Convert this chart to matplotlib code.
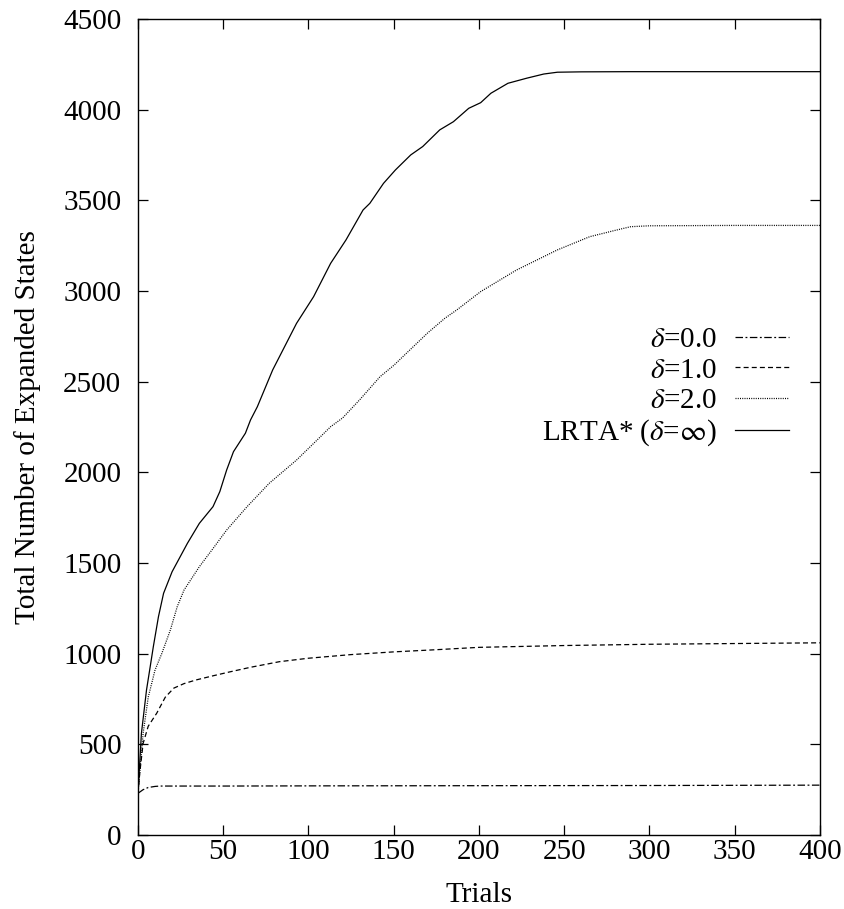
import numpy as np
from matplotlib import pyplot as plt

plt.rcParams['font.family'] = ['Liberation Serif', 'DejaVu Serif']
plt.rcParams['mathtext.fontset'] = 'stix'

# delta = 0.0
x_d0 = [0, 3, 6, 10, 13, 20, 50, 100, 200, 300, 400]
y_d0 = [230, 250, 262, 268, 270, 270, 270, 271, 272, 273, 275]

# delta = 1.0
x_d1 = [0, 1, 3, 6, 11, 16, 21, 27, 34, 44, 54, 66, 83, 100, 125, 150, 175, 200, 250, 300, 350, 400]
y_d1 = [230, 340, 505, 600, 672, 760, 810, 835, 855, 878, 900, 925, 956, 975, 995, 1010, 1022, 1035, 1045, 1052, 1056, 1060]

# delta = 2.0
x_d2 = [0, 3, 6, 10, 14, 19, 23, 27, 36, 44, 52, 64, 77, 93, 105, 113, 120, 130, 142, 150, 160,
        170, 180, 187, 201, 222, 246, 265, 280, 289, 300, 350, 400]
y_d2 = [230, 560, 760, 910, 1002, 1131, 1259, 1351, 1480, 1580, 1682, 1811, 1940, 2068, 2178, 2252,
        2300, 2400, 2528, 2590, 2680, 2770, 2850, 2896, 2997, 3116, 3227, 3300, 3335, 3355, 3360, 3362, 3362]

# LRTA* (delta = inf)
x_lr = [0, 2, 5, 7, 9, 12, 15, 20, 29, 36, 44, 48, 52, 56, 63, 66, 70, 79, 93, 103, 113, 122, 132,
        136, 144, 151, 160, 167, 177, 185, 194, 201, 207, 217, 228, 238, 246, 260, 289, 350, 400]
y_lr = [230, 560, 800, 919, 1039, 1204, 1333, 1452, 1609, 1719, 1811, 1894, 2013, 2114, 2216, 2289,
        2362, 2565, 2822, 2969, 3153, 3282, 3447, 3484, 3594, 3668, 3751, 3797, 3889, 3934, 4008, 4039,
        4091, 4146, 4174, 4197, 4207, 4209, 4210, 4210, 4210]

fig = plt.figure(figsize=(8.44, 9.09), dpi=100)
ax = fig.add_axes([0.1635, 0.0814, 0.808, 0.8976])

lw = 0.9
ax.plot(x_d0, y_d0, color='black', lw=lw, dashes=(6, 2, 1.5, 2), label=r'$\delta$=0.0')
ax.plot(x_d1, y_d1, color='black', lw=lw, dashes=(4, 2.5), label=r'$\delta$=1.0')
ax.plot(x_d2, y_d2, color='black', lw=lw, dashes=(0.8, 1.0), label=r'$\delta$=2.0')
ax.plot(x_lr, y_lr, color='black', lw=lw, label=r'LRTA* ($\delta$=$\infty$)')

ax.set_xlim(0, 400)
ax.set_ylim(0, 4500)
ax.set_xticks(np.arange(0, 401, 50))
ax.set_yticks(np.arange(0, 4501, 500))
ax.tick_params(direction='in', top=True, right=True, length=7, width=0.9,
               labelsize=21)
ax.tick_params(axis='y', pad=12)
ax.tick_params(axis='x', pad=3)
for s in ax.spines.values():
    s.set_linewidth(1.0)

ax.set_xlabel('Trials', fontsize=21, labelpad=12)
ax.set_ylabel('Total Number of Expanded States', fontsize=21, labelpad=16)

ax.legend(loc='upper right', bbox_to_anchor=(0.972, 0.637), borderaxespad=0,
          frameon=False, markerfirst=False, fontsize=21, handlelength=1.85,
          handletextpad=0.62, labelspacing=0.13)

fig.savefig('out.png', dpi=100)
